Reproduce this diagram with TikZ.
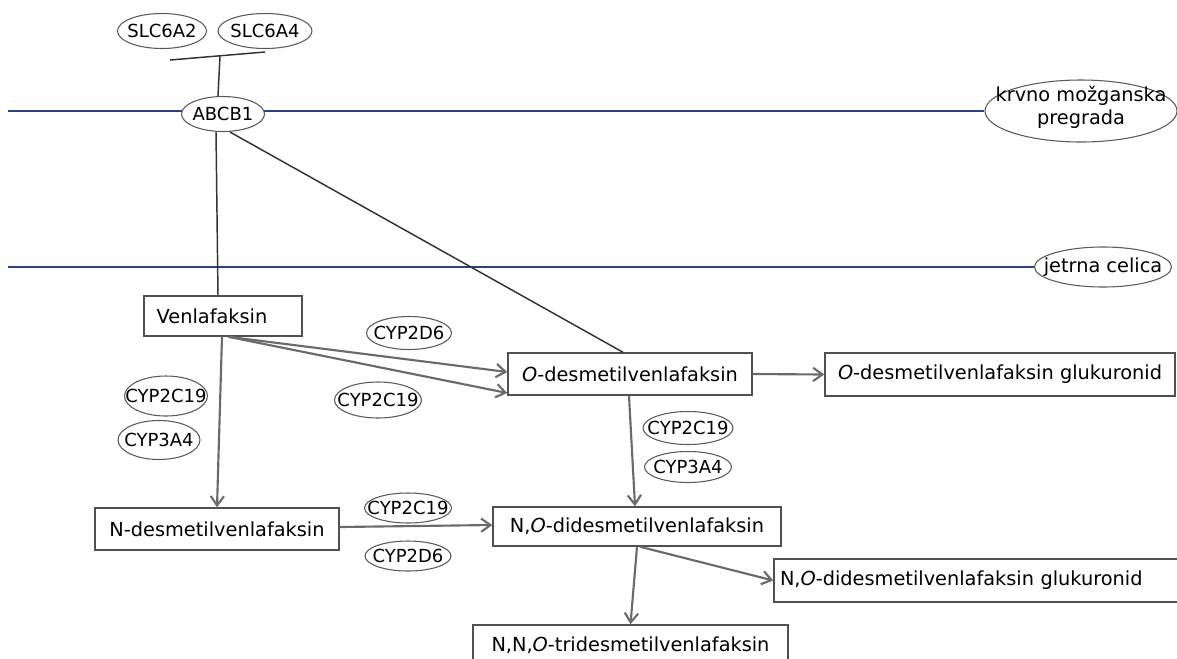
\documentclass[tikz,border=0pt]{standalone}
\usepackage{fontspec}
\setmainfont{DejaVu Sans}
\usetikzlibrary{shapes.geometric,arrows.meta,calc}
\definecolor{memblue}{HTML}{2B3E8E}
\definecolor{boxgray}{HTML}{505050}
\definecolor{ellgray}{HTML}{5A5A5A}
\definecolor{arrgray}{HTML}{6A6A6A}
\definecolor{lnkgray}{HTML}{333333}
\begin{document}
\begin{tikzpicture}[x=0.75pt,y=-0.75pt,
  box/.style={draw=boxgray,line width=1.1pt,rectangle,inner sep=0pt,font=\fontsize{14.5}{17}\selectfont},
  enz/.style={draw=ellgray,line width=0.8pt,ellipse,inner sep=0pt,font=\fontsize{13.5}{16}\selectfont},
  arr/.style={draw=arrgray,line width=1.6pt,-{Straight Barb[length=7pt,width=10pt]}},
  mem/.style={draw=memblue,line width=2.2pt},
  lnk/.style={draw=lnkgray,line width=1.1pt}]
\useasboundingbox (0,0) rectangle (1177,658);

% membrane labels
\node[enz,font=\fontsize{14.5}{17}\selectfont,minimum width=144pt,minimum height=46.5pt] (bbb) at (1081,111)
  {\makebox[0pt]{\raisebox{-3pt}{\smash{\begin{tabular}{@{}c@{}}krvno možganska\\pregrada\end{tabular}}}}};
\node[enz,font=\fontsize{14.5}{17}\selectfont,minimum width=102.75pt,minimum height=30pt] (jet) at (1103,267)
  {\makebox[0pt]{jetrna celica}};
\coordinate (m1) at (8,111);
\coordinate (m2) at (8,267);
\draw[mem] (m1) -- (bbb.west);
\draw[mem] (m2) -- (jet.west);

% transporters
\node[enz,minimum width=66.75pt,minimum height=26.25pt] (slc2) at (162,31) {\makebox[0pt]{SLC6A2}};
\node[enz,minimum width=70.5pt,minimum height=26.25pt] (slc4) at (265,31) {\makebox[0pt]{SLC6A4}};
\node[enz,fill=white,minimum width=62.25pt,minimum height=26.25pt] (abcb) at (223,114) {\makebox[0pt]{ABCB1}};
\coordinate (tl) at (170,60);
\coordinate (tr) at (265,52);
\coordinate (tm) at (220,56);
\draw[lnk] (tl) -- (tr);
\draw[lnk] (tm) -- ($(abcb.north)+(-5,0)$);

% metabolites
\node[box,minimum width=118.5pt,minimum height=30pt] (ven) at (223,316) {\hspace{-16.5pt}Venlafaksin};
\node[box,minimum width=183pt,minimum height=31.5pt] (odes) at (630,374) {\textit{O}-desmetilvenlafaksin};
\node[box,minimum width=262.5pt,minimum height=32.25pt] (odesg) at (1000,374.5) {\textit{O}-desmetilvenlafaksin glukuronid};
\node[box,minimum width=183pt,minimum height=31.5pt] (ndes) at (217,529) {N-desmetilvenlafaksin};
\node[box,minimum width=216pt,minimum height=29.25pt] (nod) at (637,526.5) {N,\textit{O}-didesmetilvenlafaksin};
\node[box,text width=295.5pt,inner xsep=4.5pt,align=left,minimum height=32.25pt] (nodg) at (977,580.5) {N,\textit{O}-didesmetilvenlafaksin glukuronid};
\node[box,minimum width=236.25pt,minimum height=30pt] (ntri) at (630.5,645) {N,N,\textit{O}-tridesmetilvenlafaksin};

% enzymes
\node[enz,minimum width=62.25pt,minimum height=30pt] (c19a) at (166,396) {\makebox[0pt]{CYP2C19}};
\node[enz,minimum width=61.5pt,minimum height=29.25pt] (c3a4a) at (159,440) {\makebox[0pt]{CYP3A4}};
\node[enz,minimum width=63.75pt,minimum height=24.75pt] (c2d6a) at (409,333) {\makebox[0pt]{CYP2D6}};
\node[enz,minimum width=65.25pt,minimum height=27pt] (c19b) at (378,400) {\makebox[0pt]{CYP2C19}};
\node[enz,minimum width=67.5pt,minimum height=24.75pt] (c19c) at (688,428) {\makebox[0pt]{CYP2C19}};
\node[enz,minimum width=65.25pt,minimum height=23.25pt] (c3a4c) at (688,467) {\makebox[0pt]{CYP3A4}};
\node[enz,minimum width=65.25pt,minimum height=22.5pt] (c19d) at (408,508) {\makebox[0pt]{CYP2C19}};
\node[enz,minimum width=64.5pt,minimum height=22.5pt] (c2d6d) at (408,556) {\makebox[0pt]{CYP2D6}};

% ABCB1 links
\draw[lnk] ($(abcb.south)+(-7,0)$) -- ($(ven.north)+(-5,0)$);
\draw[lnk] ($(abcb.south)+(7,0)$) -- ($(odes.north)+(-7,0)$);

% reactions
\draw[arr] ($(ven.south)+(5,0)$) -- ($(odes.west)+(0,-2)$);
\draw[arr] ($(ven.south)+(5,0)$) -- ($(odes.west)+(0,19)$);
\draw[arr] ($(ven.south)+(-1,0)$) -- (ndes.north);
\draw[arr] (odes.east) -- (odesg.west);
\draw[arr] ($(odes.south)+(-1,0)$) -- ($(nod.north)+(-2,0)$);
\draw[arr] ($(ndes.east)+(0,-2)$) -- ($(nod.west)+(0,-1.5)$);
\draw[arr] (nod.south) -- (ntri.north);
\draw[arr] ($(nod.south)+(3,0)$) -- (nodg.west);
\end{tikzpicture}
\end{document}
